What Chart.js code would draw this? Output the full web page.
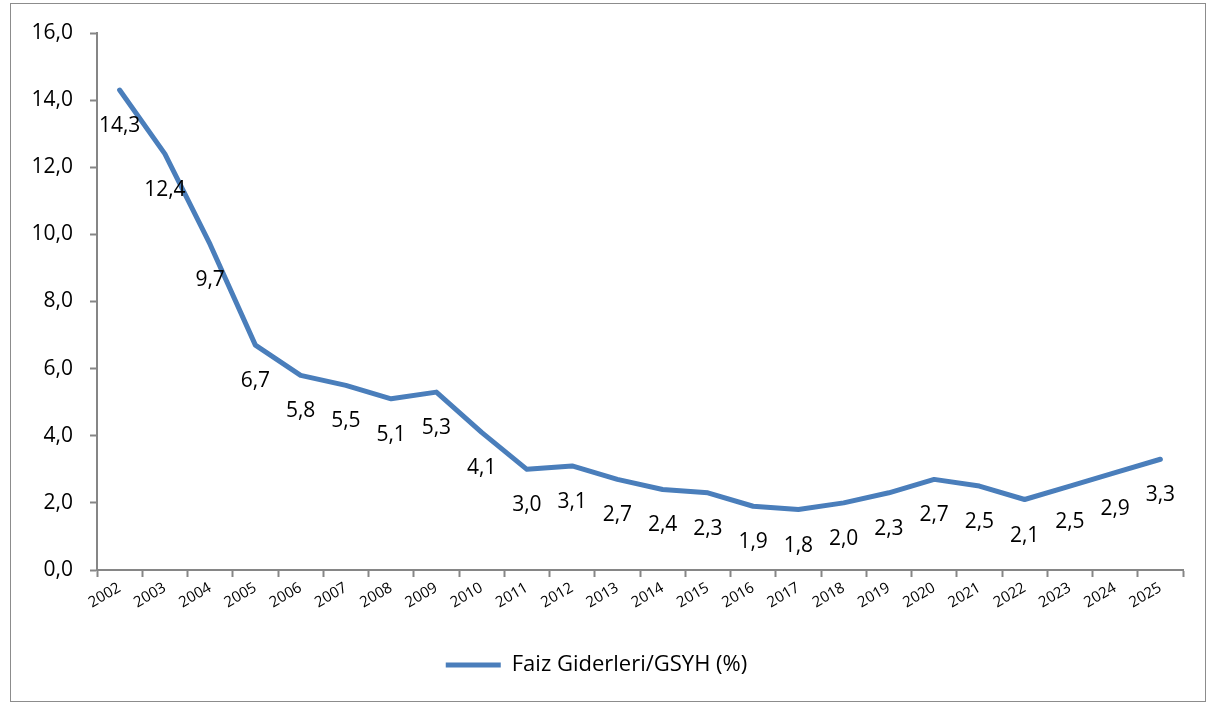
<!DOCTYPE html>
<html>
<head>
<meta charset="utf-8">
<script src="https://cdn.jsdelivr.net/npm/chart.js@4/dist/chart.umd.min.js"></script>
<style>
  html, body { margin: 0; padding: 0; background: #fff; }
  #wrap { position: relative; width: 1210px; height: 704px; }
  #frame { position: absolute; left: 10px; top: 3px; width: 1194px; height: 697px; border: 1px solid #8c8c8c; pointer-events: none; }
</style>
</head>
<body>
<div id="wrap">
  <canvas id="line-chart"></canvas>
  <div id="frame"></div>
</div>
<script>
  // veriler
  const years = ['2002', '2003', '2004', '2005', '2006', '2007', '2008', '2009', '2010', '2011', '2012', '2013',
                 '2014', '2015', '2016', '2017', '2018', '2019', '2020', '2021', '2022', '2023', '2024', '2025'];
  const faizGsyh = [14.3, 12.4, 9.7, 6.7, 5.8, 5.5, 5.1, 5.3, 4.1, 3.0, 3.1, 2.7,
                    2.4, 2.3, 1.9, 1.8, 2.0, 2.3, 2.7, 2.5, 2.1, 2.5, 2.9, 3.3];
  const seriesName = 'Faiz Giderleri/GSYH (%)';

  const fontFamily = '"Open Sans", "Noto Sans", sans-serif';
  const axisColor = '#868686';
  const fmt = v => v.toFixed(1).replace('.', ',');

  // nokta altına değer etiketleri
  const valueLabels = {
    id: 'valueLabels',
    afterDatasetsDraw(chart) {
      const ctx = chart.ctx;
      const meta = chart.getDatasetMeta(0);
      ctx.save();
      ctx.font = '21px ' + fontFamily;
      ctx.fillStyle = '#000';
      ctx.textAlign = 'center';
      ctx.textBaseline = 'middle';
      meta.data.forEach((pt, i) => {
        ctx.fillText(fmt(faizGsyh[i]), pt.x, pt.y + 36);
      });
      ctx.restore();
    }
  };

  const config = {
    type: 'line',
    data: {
      labels: years,
      datasets: [{
        label: seriesName,
        data: faizGsyh,
        borderColor: '#4a7ebb',
        backgroundColor: '#4a7ebb',
        borderWidth: 5,
        borderCapStyle: 'round',
        borderJoinStyle: 'round',
        pointRadius: 0,
        pointHoverRadius: 0,
        tension: 0
      }]
    },
    options: {
      responsive: true,
      maintainAspectRatio: false,
      animation: false,
      layout: { padding: { left: 10, right: 27, top: 33, bottom: 18 } },
      plugins: {
        tooltip: { enabled: false },
        legend: {
          position: 'bottom',
          labels: {
            usePointStyle: true,
            pointStyle: 'line',
            pointStyleWidth: 55,
            color: '#000',
            font: { family: fontFamily, size: 22 },
            padding: 10
          }
        }
      },
      scales: {
        x: {
          offset: true,
          grid: { offset: true, drawOnChartArea: false, color: axisColor, tickLength: 7, tickWidth: 2 },
          border: { color: axisColor, width: 2 },
          ticks: {
            color: '#000',
            font: { family: fontFamily, size: 15 },
            maxRotation: 30,
            minRotation: 30,
            autoSkip: false,
            padding: 2
          },
          afterFit(s) { s.height = 74; }
        },
        y: {
          min: 0,
          max: 16,
          grid: { drawOnChartArea: false, color: axisColor, tickLength: 7, tickWidth: 2 },
          border: { color: axisColor, width: 2 },
          ticks: {
            stepSize: 2,
            color: '#000',
            font: { family: fontFamily, size: 21 },
            padding: 17,
            callback: v => fmt(v)
          },
          afterFit(s) { s.width = 87; }
        }
      }
    },
    plugins: [valueLabels]
  };

  const ctx = document.getElementById('line-chart').getContext('2d');
  document.getElementById('line-chart').parentNode.style.height = '704px';
  new Chart(ctx, config);
</script>
</body>
</html>
